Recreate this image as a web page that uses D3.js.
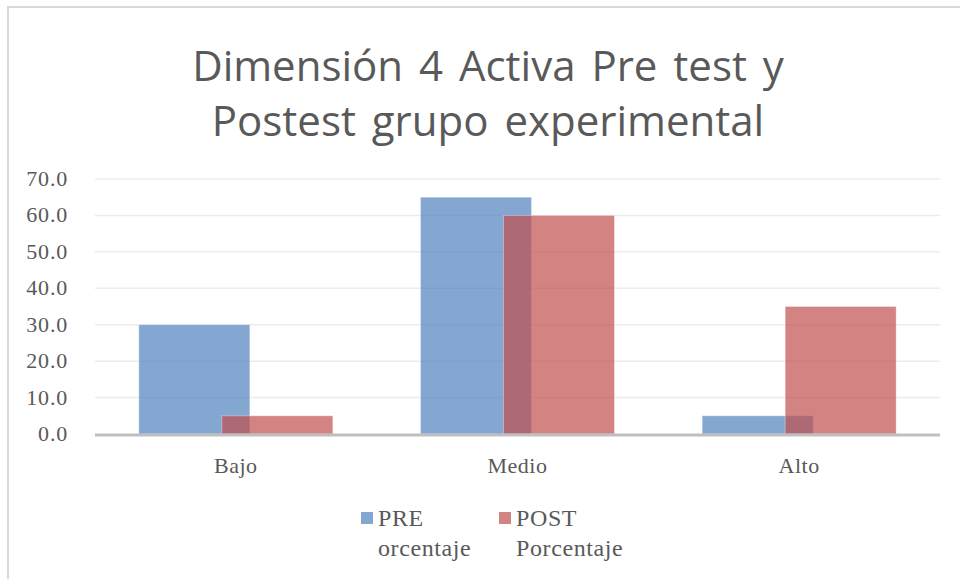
<!DOCTYPE html>
<html><head><meta charset="utf-8">
<script src="https://cdn.jsdelivr.net/npm/d3@7"></script>
<style>body{margin:0;background:#fff}svg{display:block}</style>
</head><body>
<script>
const categories = ["Bajo", "Medio", "Alto"];
const seriesNames = ["PRE", "POST"];
const legendLines = [["PRE", "orcentaje"], ["POST", "Porcentaje"]];
const preValues = [30, 65, 5];
const postValues = [5, 60, 35];
const yTicks = [0, 10, 20, 30, 40, 50, 60, 70];
const titleLines = ["Dimensión 4 Activa Pre test y", "Postest grupo experimental"];
const colors = ["#4F81BD", "#C0504D"];

const W = 960, H = 579;
const svg = d3.select("body").append("svg").attr("width", W).attr("height", H);
svg.append("rect").attr("width", W).attr("height", H).attr("fill", "#fff");
svg.append("rect").attr("x", 8).attr("y", 7).attr("width", W + 20).attr("height", H + 20)
  .attr("fill", "none").attr("stroke", "#d9d9d9").attr("stroke-width", 2);

const m = {left: 95, right: 940, top: 179, bottom: 434};
const x = d3.scaleBand().domain(categories).range([m.left, m.right]);
const y = d3.scaleLinear().domain([0, 70]).range([m.bottom, m.top]);

const serif = "'Liberation Serif', serif";

// title
svg.append("g").selectAll("text").data(titleLines).join("text")
  .attr("x", 488).attr("y", (d, i) => 81 + i * 55)
  .attr("text-anchor", "middle").attr("font-family", "'Open Sans', sans-serif")
  .attr("font-size", 42).attr("fill", "#595959").attr("word-spacing", 5).text(d => d);

// grid
svg.append("g").selectAll("line").data(yTicks.slice(1)).join("line")
  .attr("x1", m.left).attr("x2", m.right).attr("y1", d => y(d)).attr("y2", d => y(d))
  .attr("stroke", "#ececec").attr("stroke-width", 1.5);

// y labels
svg.append("g").selectAll("text").data(yTicks).join("text")
  .attr("x", 68).attr("y", d => y(d) + 7).attr("text-anchor", "end")
  .attr("font-family", serif).attr("font-size", 22).attr("letter-spacing", 0.8).attr("fill", "#595959")
  .text(d => d.toFixed(1));

// bars
const bw = 111, off = 83;
const groupW = bw + off;
const data = [preValues, postValues];
data.forEach((vals, s) => {
  svg.append("g").selectAll("rect").data(vals).join("rect")
    .attr("x", (d, i) => x(categories[i]) + x.bandwidth() / 2 - groupW / 2 + s * off)
    .attr("width", bw)
    .attr("y", d => y(d)).attr("height", d => y(0) - y(d))
    .attr("fill", colors[s]).attr("fill-opacity", 0.7)
    .attr("stroke", "#fff").attr("stroke-opacity", 0.35).attr("stroke-width", 1);
});

// axis line
svg.append("line").attr("x1", m.left).attr("x2", m.right).attr("y1", y(0) + 1).attr("y2", y(0) + 1)
  .attr("stroke", "#bfbfbf").attr("stroke-width", 3);

// x labels
svg.append("g").selectAll("text").data(categories).join("text")
  .attr("x", d => x(d) + x.bandwidth() / 2).attr("y", 473).attr("text-anchor", "middle")
  .attr("font-family", serif).attr("font-size", 22).attr("letter-spacing", 0.5).attr("fill", "#595959")
  .text(d => d);

// legend
const lx = [361, 499];
seriesNames.forEach((n, i) => {
  const g = svg.append("g");
  g.append("rect").attr("x", lx[i]).attr("y", 512).attr("width", 12).attr("height", 12)
    .attr("fill", colors[i]).attr("fill-opacity", 0.7);
  g.selectAll("text").data(legendLines[i]).join("text")
    .attr("x", lx[i] + 17).attr("y", (d, k) => 526 + k * 30)
    .attr("font-family", serif).attr("font-size", 24).attr("letter-spacing", 0.6).attr("fill", "#595959")
    .text(d => d);
});
</script>
</body></html>
